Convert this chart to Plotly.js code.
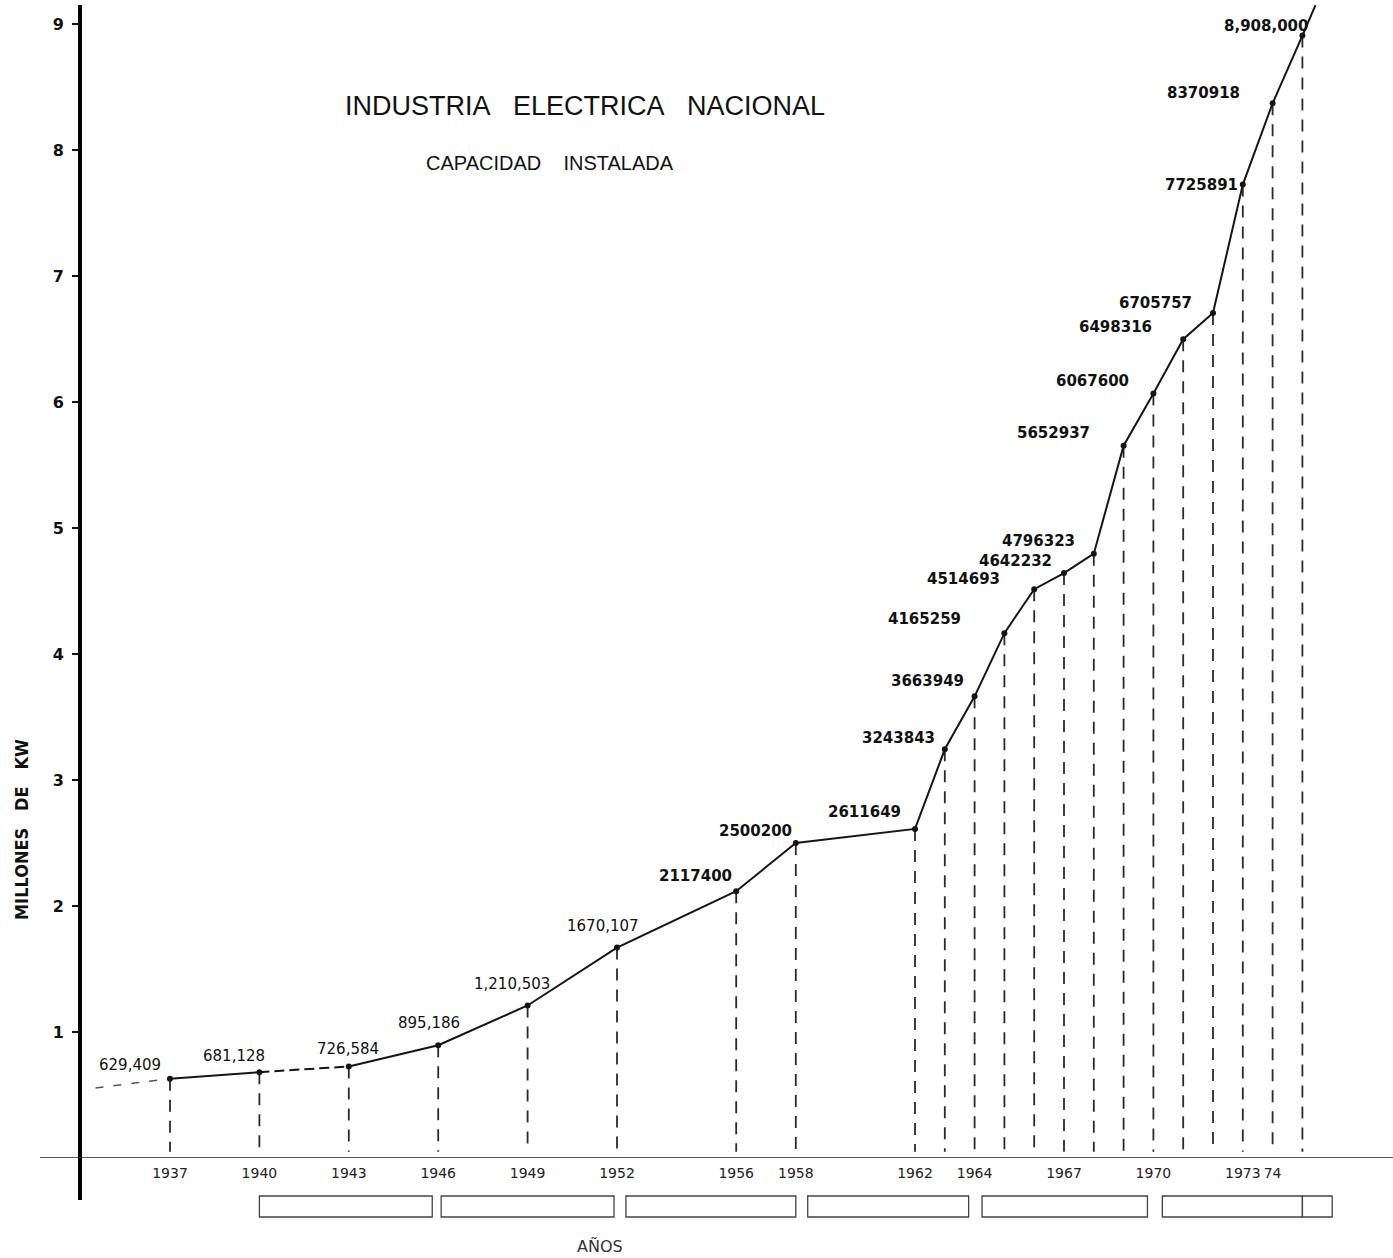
<!DOCTYPE html>
<html><head><meta charset="utf-8">
<script src="https://cdn.plot.ly/plotly-3.0.1.min.js"></script>
<style>body{margin:0;background:#fff}#chart{width:1393px;height:1258px}</style>
</head><body><div id="chart"></div>
<script>
// ---- data ----
const years = [1937,1940,1943,1946,1949,1952,1956,1958,1962,1963,1964,1965,1966,1967,1968,1969,1970,1971,1972,1973,1974,1975];
const capacityKW = [629409,681128,726584,895186,1210503,1670107,2117400,2500200,2611649,3243843,3663949,4165259,4514693,4642232,4796323,5652937,6067600,6498316,6705757,7725891,8370918,8908000];
const valueLabels = ["629,409","681,128","726,584","895,186","1,210,503","1670,107","2117400","2500200","2611649","3243843","3663949","4165259","4514693","4642232","4796323","5652937","6067600","6498316","6705757","7725891","8370918","8,908,000"];
const tickYears = [1937,1940,1943,1946,1949,1952,1956,1958,1962,1964,1967,1970,1973,1974];
const tickLabels = ["1937","1940","1943","1946","1949","1952","1956","1958","1962","1964","1967","1970","1973","74"];
const yTicks = [1,2,3,4,5,6,7,8,9];
const yTickLabels = ["1","2","3","4","5","6","7","8","9"];
const sexenioStart = [1940,1946.1,1952.3,1958.4,1964.25,1970.3,1975.0];
const sexenioEnd   = [1945.8,1951.9,1958.0,1963.8,1969.8,1975.0,1976.0];
const leadYears = [1934.5,1937], leadValues = [556000,629409];
const tailYears = [1975,1975.44], tailValues = [8908000,9150000];

// ---- label placement (pixels) ----
const labelDX = [-40,-25,-1,-9,-16,-14,-41,-40,-51,-46,-47,-80,-71,-49,-55,-70,-61,-68,-58,-41,-69,-36];
const labelDY = [14,16,17,22,21,22,15,12,17,11,15,14,10,12,13,13,12,12,10,0,10,10];

const M = v => v/1e6;
const yv = capacityKW.map(M);
const ink = '#151515';
const traces = [];

// drop lines
const dx=[], dy=[];
years.forEach((yr,i)=>{dx.push(yr,yr,null); dy.push(yv[i],0.05,null);});
traces.push({x:dx,y:dy,mode:'lines',line:{color:'#2a2a2a',width:1.8,dash:'12px,9px'},hoverinfo:'skip'});

// lead-in dashed
traces.push({x:leadYears,y:leadValues.map(M),mode:'lines',line:{color:'#555',width:1.5,dash:'8px,10px'},hoverinfo:'skip'});
// main line: solid parts + dashed 1940-1943
const i40 = years.indexOf(1940), i43 = years.indexOf(1943);
traces.push({x:years.slice(0,i40+1),y:yv.slice(0,i40+1),mode:'lines',line:{color:ink,width:2},hoverinfo:'skip'});
traces.push({x:years.slice(i40,i43+1),y:yv.slice(i40,i43+1),mode:'lines',line:{color:ink,width:2,dash:'10px,5px'},hoverinfo:'skip'});
traces.push({x:years.slice(i43),y:yv.slice(i43),mode:'lines',line:{color:ink,width:2},hoverinfo:'skip'});
traces.push({x:tailYears,y:tailValues.map(M),mode:'lines',line:{color:ink,width:2},hoverinfo:'skip'});
// points
traces.push({x:years,y:yv,mode:'markers',marker:{color:ink,size:6},hoverinfo:'x+y'});

const annotations = years.map((yr,i)=>({
  x:yr,y:yv[i],xref:'x',yref:'y',text:valueLabels[i],showarrow:false,xanchor:'center',yanchor:'middle',
  xshift:labelDX[i],yshift:labelDY[i],
  font:{family:'DejaVu Sans, Arial',size:15,color:'#111',weight: yr>=1956?'bold':'normal'}
}));
annotations.push(
  {text:'INDUSTRIA&nbsp;&nbsp; ELECTRICA&nbsp;&nbsp; NACIONAL',xref:'paper',yref:'paper',x:(585-80)/1313,y:1-106/1158,showarrow:false,
   xanchor:'center',yanchor:'middle',font:{family:'Liberation Sans, Arial',size:27,color:'#111'}},
  {text:'CAPACIDAD&nbsp;&nbsp;&nbsp; INSTALADA',xref:'paper',yref:'paper',x:(550-80)/1313,y:1-163/1158,showarrow:false,
   xanchor:'center',yanchor:'middle',font:{family:'Liberation Sans, Arial',size:20,color:'#111'}},
  {text:'<b>MILLONES&nbsp;&nbsp; DE&nbsp;&nbsp; KW</b>',xref:'paper',yref:'paper',x:(21-80)/1313,y:1-830/1158,showarrow:false,textangle:-90,
   xanchor:'center',yanchor:'middle',font:{family:'DejaVu Sans Condensed, DejaVu Sans, Arial',size:18,color:'#111'}},
  {text:'AÑOS',xref:'paper',yref:'paper',x:(600-80)/1313,y:1-1246/1158,showarrow:false,
   xanchor:'center',yanchor:'middle',font:{family:'DejaVu Sans, Arial',size:16,color:'#333'}}
);

const shapes = [
  {type:'line',xref:'paper',yref:'paper',x0:0,x1:0,y0:-(1200-1158)/1158,y1:1-5/1158,line:{color:'#000',width:4}},
  {type:'line',xref:'paper',yref:'y',x0:(40-80)/1313,x1:1,y0:0,y1:0,line:{color:'#222',width:1.6}}
];
sexenioStart.forEach((s,i)=>{
  shapes.push({type:'rect',xref:'x',yref:'paper',x0:s,x1:sexenioEnd[i],y0:-(1217-1158)/1158,y1:-(1196-1158)/1158,
    line:{color:'#444',width:1.3}});
});

const x0 = 1937 - 90/29.8, x1 = x0 + 1313/29.8;
const layout = {
  width:1393,height:1258,paper_bgcolor:'#fff',plot_bgcolor:'#fff',showlegend:false,
  margin:{l:80,r:0,t:0,b:100},
  xaxis:{range:[x0,x1],showgrid:false,zeroline:false,showline:false,tickmode:'array',tickvals:tickYears,ticktext:tickLabels,
    tickangle:0,ticks:'',tickfont:{family:'DejaVu Sans, Arial',size:14,color:'#222'},ticklabelstandoff:5},
  yaxis:{range:[0,1158/126],showgrid:false,zeroline:false,showline:false,tickmode:'array',tickvals:yTicks,ticktext:yTickLabels,
    ticks:'outside',ticklen:7,tickwidth:2,tickcolor:'#111',tickfont:{family:'DejaVu Sans, Arial',size:16,color:'#111',weight:'bold'},ticklabelstandoff:5},
  annotations, shapes
};
Plotly.newPlot('chart',traces,layout,{displayModeBar:false,staticPlot:true});
</script>
</body></html>
